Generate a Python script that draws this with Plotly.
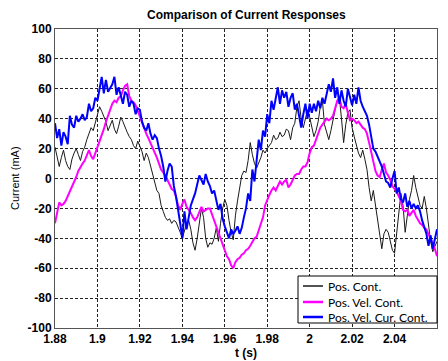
import plotly.graph_objects as go

# Sample times: 1 ms steps from 1.880 s to 2.060 s
t_start = 1.88
t_step = 0.001
n_samples = 181
t = [round(t_start + i * t_step, 3) for i in range(n_samples)]

# Current responses in mA for each controller
pos_cont = [
    21, 14, 8, 14, 19, 12, 8, 6, 13, 17,
    20, 16, 12, 18, 21, 26, 30, 34, 32, 38,
    43, 48, 45, 42, 38, 32, 36, 39, 33, 30,
    35, 41, 38, 34, 31, 28, 26, 22, 20, 25,
    22, 18, 12, 17, 14, 8, 2, -4, -8, -10,
    -18, -22, -26, -28, -27, -30, -28, -29, -32, -36,
    -40, -35, -30, -28, -34, -43, -48, -40, -28, -20,
    -26, -40, -46, -43, -44, -40, -33, -42, -30, -20,
    -14, -18, -28, -36, -41, -25, -15, -5, 2, 5,
    4, 12, 24, 16, 10, 7, 10, 14, 19, 17,
    20, 22, 24, 29, 26, 27, 31, 28, 29, 33,
    32, 26, 34, 37, 48, 52, 40, 34, 40, 46,
    41, 34, 28, 32, 38, 48, 52, 36, 30, 26,
    32, 40, 46, 52, 54, 40, 24, 36, 44, 46,
    34, 28, 22, 17, 14, 19, 13, 6, -6, -15,
    -8, -18, -28, -38, -47, -37, -34, -36, -42, -48,
    -50, -38, -24, -10, -18, -36, -25, -14, -8, 2,
    -6, -13, -18, -20, -12, -20, -32, -42, -49, -46,
    -42,
]

pos_vel_cont = [
    -30, -22, -16, -18, -17, -15, -12, -9, -6, -2,
    1, 5, 8, 10, 12, 15, 19, 15, 13, 17,
    21, 25, 28, 33, 38, 42, 45, 50, 52, 51,
    54, 55, 59, 62, 63, 55, 52, 51, 49, 45,
    42, 38, 34, 30, 27, 24, 20, 17, 14, 10,
    6, 4, 2, -1, -4, -7, -8, -12, -18, -21,
    -17, -14, -19, -21, -23, -26, -28, -26, -22, -19,
    -22, -21, -20, -20, -24, -28, -32, -36, -40, -44,
    -48, -52, -54, -58, -60, -56, -54, -53, -51, -50,
    -48, -47, -45, -42, -40, -39, -35, -31, -26, -18,
    -14, -11, -8, -6, -8, -5, -2, -4, -2, -1,
    -6, -4, -1, 2, 3, 3, 6, 8, 8, 11,
    17, 21, 22, 26, 30, 34, 36, 38, 40, 39,
    40, 42, 48, 52, 54, 48, 47, 50, 44, 39,
    40, 39, 37, 38, 36, 34, 33, 30, 24, 18,
    12, 5, 2, 1, 6, 10, 4, 2, -1, -5,
    -7, -9, -12, -15, -21, -22, -21, -25, -23, -21,
    -25, -28, -30, -31, -33, -34, -37, -40, -43, -47,
    -52,
]

pos_vel_cur_cont = [
    37, 27, 33, 22, 31, 28, 23, 42, 36, 34,
    42, 38, 40, 43, 39, 41, 50, 45, 47, 54,
    52, 59, 68, 57, 66, 58, 61, 63, 68, 56,
    61, 55, 50, 58, 56, 48, 52, 50, 43, 47,
    46, 38, 34, 32, 37, 30, 26, 29, 27, 20,
    15, 8, -2, 5, 10, 8, -5, -12, -20, -30,
    -40, -22, -34, -25, -18, -14, -10, -4, 2, -1,
    -4, 3, -2, -5, -10, -8, -14, -21, -17, -27,
    -32, -36, -40, -34, -37, -35, -32, -37, -33, -26,
    -20, -10, -15, 6, -2, 12, 26, 19, 32, 28,
    43, 37, 52, 46, 54, 61, 50, 59, 54, 58,
    48, 54, 57, 46, 50, 41, 34, 43, 50, 40,
    50, 44, 50, 45, 52, 47, 54, 50, 56, 63,
    58, 67, 54, 61, 50, 59, 52, 48, 60, 55,
    49, 56, 50, 61, 52, 48, 45, 42, 36, 28,
    20, 18, 15, 12, 8, 3, -2, -3, -6, 0,
    5, -10, -6, -14, -16, -10, -19, -15, -20, -17,
    -20, -18, -22, -28, -33, -37, -45, -38, -47, -40,
    -34,
]

series_names = ["Pos. Cont.", "Pos. Vel. Cont.", "Pos. Vel. Cur. Cont."]
series_values = [pos_cont, pos_vel_cont, pos_vel_cur_cont]
series_colors = ["#1a1a1a", "#ff00ff", "#0000ff"]
series_widths = [1, 2, 2]

x_ticks = [1.88, 1.90, 1.92, 1.94, 1.96, 1.98, 2.00, 2.02, 2.04, 2.06]
x_tick_labels = ["1.88", "1.9", "1.92", "1.94", "1.96", "1.98", "2", "2.02", "2.04", "2.06"]
y_ticks = [-100, -80, -60, -40, -20, 0, 20, 40, 60, 80, 100]
y_tick_labels = [str(v) for v in y_ticks]

fig = go.Figure()
for name, vals, color, width in zip(series_names, series_values, series_colors, series_widths):
    fig.add_trace(go.Scatter(
        x=t, y=vals, mode="lines", name=name,
        line=dict(color=color, width=width),
        showlegend=False,
    ))

tick_font = dict(family="Liberation Sans Narrow, Arial Narrow, Liberation Sans, Arial",
                 size=12, color="black", weight="bold")

axis_common = dict(
    showgrid=True, gridcolor="#222222", gridwidth=1, griddash="3px,2px",
    showline=True, linecolor="#555555", linewidth=1, mirror=True,
    zeroline=False, ticks="", tickfont=tick_font,
)

fig.update_layout(
    width=448, height=361,
    margin=dict(l=55, r=11, t=29, b=33),
    paper_bgcolor="white", plot_bgcolor="white",
    xaxis=dict(range=[1.88, 2.06], tickmode="array", tickvals=x_ticks,
               ticktext=x_tick_labels, **axis_common),
    yaxis=dict(range=[-100, 100], tickmode="array", tickvals=y_ticks,
               ticktext=y_tick_labels, **axis_common),
    showlegend=False,
)

# Plot area in pixels, used to place the text and legend box in paper units
plot_left, plot_right, plot_top, plot_bottom = 55, 437, 29, 328
pw = plot_right - plot_left
ph = plot_bottom - plot_top


def px_x(px):
    return (px - plot_left) / pw


def px_y(py):
    return (plot_bottom - py) / ph


annotations = [
    dict(text="<b>Comparison of Current Responses</b>", x=0.5, y=px_y(15),
         xref="paper", yref="paper", showarrow=False, xanchor="center", yanchor="middle",
         font=dict(family="Liberation Sans Narrow, Arial Narrow, Liberation Sans, Arial",
                   size=12, color="black")),
    dict(text="<b>t (s)</b>", x=0.5, y=px_y(353),
         xref="paper", yref="paper", showarrow=False, xanchor="center", yanchor="middle",
         font=dict(family="Liberation Sans, Arial", size=12, color="black")),
    dict(text="Current (mA)", x=px_x(15), y=px_y(178),
         xref="paper", yref="paper", showarrow=False, xanchor="center", yanchor="middle",
         textangle=-90,
         font=dict(family="Liberation Sans, Arial", size=11, color="black")),
]

# Legend box drawn as shapes with text labels
shapes = [
    dict(type="rect", xref="paper", yref="paper",
         x0=px_x(298), x1=px_x(437), y0=px_y(323), y1=px_y(276),
         line=dict(color="black", width=1), fillcolor="white", layer="above"),
]
legend_rows = [286, 302, 317]
for name, color, width, row in zip(series_names, series_colors, series_widths, legend_rows):
    shapes.append(dict(type="line", xref="paper", yref="paper",
                       x0=px_x(303), x1=px_x(323), y0=px_y(row), y1=px_y(row),
                       line=dict(color=color, width=width + 0.5), layer="above"))
    annotations.append(dict(text=name, x=px_x(326), y=px_y(row),
                            xref="paper", yref="paper", showarrow=False,
                            xanchor="left", yanchor="middle",
                            font=dict(family="Lato, Open Sans, Liberation Sans", size=12,
                                      color="black")))

fig.update_layout(shapes=shapes, annotations=annotations)

fig.write_html("out.html")
